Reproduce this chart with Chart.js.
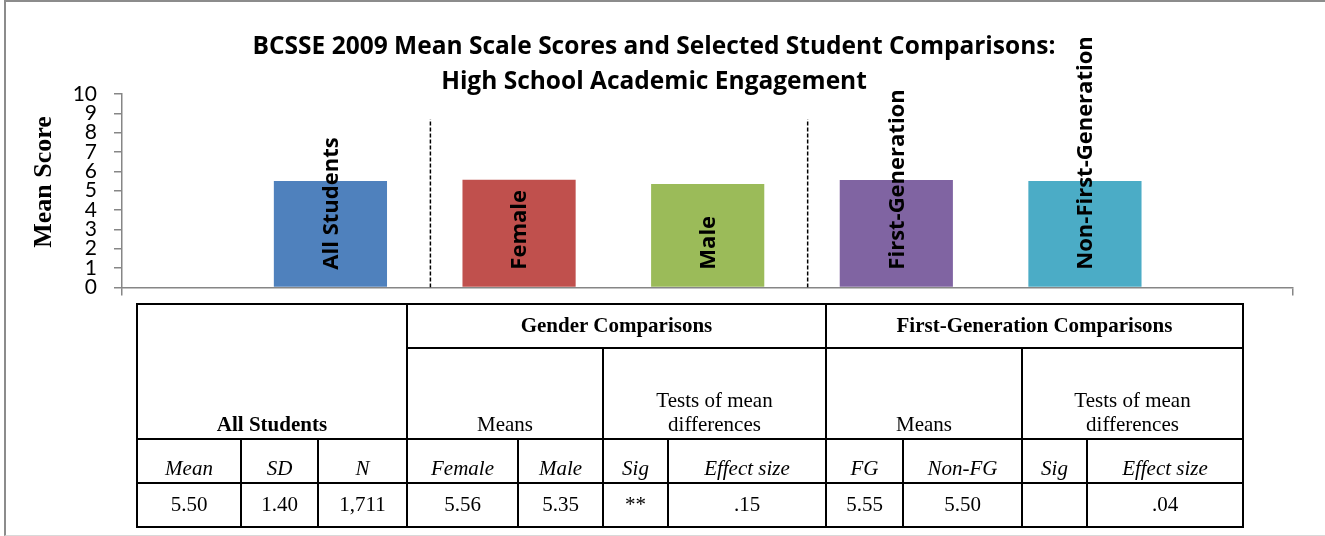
<!DOCTYPE html>
<html lang="en">
<head>
    <meta charset="UTF-8">
    <title>BCSSE 2009 Mean Scale Scores</title>
    <style>
        body {
            margin: 0;
            background-color: #fff;
            width: 1325px;
            height: 536px;
            overflow: hidden;
            position: relative;
        }
        #frame {
            position: absolute;
            left: 4px;
            top: 0;
            width: 1319px;
            height: 533px;
            border-left: 2px solid #8c8c8c;
            border-top: 2px solid #8c8c8c;
            border-bottom: 1px solid #d9d9d9;
        }
        #chart-container {
            position: absolute;
            left: 0;
            top: 0;
            width: 1325px;
            height: 317px;
        }
        #stats {
            position: absolute;
            left: 136px;
            top: 303px;
            border-collapse: collapse;
            font-family: "Liberation Serif", "Times New Roman", serif;
            font-size: 21px;
            color: #000;
            table-layout: fixed;
        }
        #stats td {
            border: 2px solid #000;
            text-align: center;
            padding: 0 2px 2px 2px;
            line-height: 24px;
        }
        #stats tr.r1 td { height: 40px; vertical-align: middle; font-weight: bold; }
        #stats tr.r2 td { height: 87px; vertical-align: bottom; }
        #stats tr.r3 td { height: 40px; vertical-align: bottom; font-style: italic; }
        #stats tr.r4 td { height: 40px; vertical-align: middle; }
        #stats td.group { font-weight: bold; }
    </style>
</head>
<body>
    <div id="frame"></div>
    <div id="chart-container">
        <canvas id="meanChart" width="1325" height="317"></canvas>
    </div>
    <table id="stats"></table>

    <script src="https://cdn.jsdelivr.net/npm/chart.js"></script>
    <script>
        // chart data
        const categories = ['All Students', 'Female', 'Male', 'First-Generation', 'Non-First-Generation'];
        const positions = [1, 2, 3, 4, 5];
        const meanScores = [5.50, 5.56, 5.35, 5.55, 5.50];
        const barColors = ['#4F81BD', '#C0504D', '#9BBB59', '#8064A2', '#4BACC6'];
        const yTicks = [0, 1, 2, 3, 4, 5, 6, 7, 8, 9, 10];
        const separatorX = [1.53, 3.53];
        const separatorTop = 8.7;
        const xMin = -0.105;
        const xMax = 6.103;

        // table data
        const groupHeaders = ['All Students', 'Gender Comparisons', 'First-Generation Comparisons'];
        const subHeaders = ['Means', 'Tests of mean<br>differences', 'Means', 'Tests of mean<br>differences'];
        const columnLabels = ['Mean', 'SD', 'N', 'Female', 'Male', 'Sig', 'Effect size', 'FG', 'Non-FG', 'Sig', 'Effect size'];
        const tableValues = ['5.50', '1.40', '1,711', '5.56', '5.35', '**', '.15', '5.55', '5.50', '', '.04'];
        const columnWidths = [104, 77, 89, 111, 85, 65, 158, 77, 119, 65, 156];

        const titleLines = ['BCSSE 2009 Mean Scale Scores and Selected Student Comparisons:', 'High School Academic Engagement'];
        const yTitle = 'Mean Score';

        // build the table
        const table = document.getElementById('stats');
        let html = '<colgroup>' + columnWidths.map(w => '<col style="width:' + w + 'px">').join('') + '</colgroup>';
        html += '<tr class="r1"><td rowspan="2" colspan="3" class="group" style="vertical-align:bottom">' + groupHeaders[0] + '</td>'
              + '<td colspan="4">' + groupHeaders[1] + '</td><td colspan="4">' + groupHeaders[2] + '</td></tr>';
        html += '<tr class="r2">'
              + '<td colspan="2">' + subHeaders[0] + '</td><td colspan="2">' + subHeaders[1] + '</td>'
              + '<td colspan="2">' + subHeaders[2] + '</td><td colspan="2">' + subHeaders[3] + '</td></tr>';
        html += '<tr class="r3">' + columnLabels.map(l => '<td>' + l + '</td>').join('') + '</tr>';
        html += '<tr class="r4">' + tableValues.map(v => '<td>' + v + '</td>').join('') + '</tr>';
        table.innerHTML = html;

        // labels written up the inside of each bar
        const barLabels = {
            id: 'barLabels',
            afterDatasetsDraw(chart) {
                const ctx = chart.ctx;
                const meta = chart.getDatasetMeta(0);
                meta.data.forEach((bar, i) => {
                    ctx.save();
                    ctx.translate(bar.x + 1, bar.base - 17);
                    ctx.rotate(-Math.PI / 2);
                    ctx.font = 'bold 22px "Open Sans"';
                    ctx.fillStyle = '#000';
                    ctx.textAlign = 'left';
                    ctx.textBaseline = 'middle';
                    ctx.fillText(categories[i], 0, 0);
                    ctx.restore();
                });
            }
        };

        // chart title and rotated axis title
        const titles = {
            id: 'titles',
            afterDraw(chart) {
                const ctx = chart.ctx;
                ctx.save();
                ctx.fillStyle = '#000';
                ctx.textAlign = 'center';
                ctx.textBaseline = 'alphabetic';
                ctx.font = 'bold 24.5px "Open Sans"';
                ctx.fillText(titleLines[0], 654, 54);
                ctx.fillText(titleLines[1], 654, 89);
                ctx.translate(44, 182);
                ctx.rotate(-Math.PI / 2);
                ctx.textBaseline = 'middle';
                ctx.font = 'bold 26px "Liberation Serif"';
                ctx.fillText(yTitle, 0, 0);
                ctx.restore();
            }
        };

        // dashed dividers between the comparison groups
        const separators = separatorX.map(x => ({
            type: 'line',
            data: [{ x: x, y: 0 }, { x: x, y: separatorTop }],
            borderColor: '#000',
            borderWidth: 1.5,
            borderDash: [4, 2],
            pointRadius: 0,
            fill: false
        }));

        const ctx = document.getElementById('meanChart').getContext('2d');
        new Chart(ctx, {
            type: 'bar',
            data: {
                datasets: [
                    {
                        data: positions.map((p, i) => ({ x: p, y: meanScores[i] })),
                        backgroundColor: barColors,
                        borderWidth: 0,
                        barPercentage: 0.6,
                        categoryPercentage: 1
                    },
                    ...separators
                ]
            },
            options: {
                responsive: false,
                animation: false,
                layout: {
                    padding: { left: 0, right: 32, top: 94, bottom: 5.4 }
                },
                scales: {
                    x: {
                        type: 'linear',
                        min: xMin,
                        max: xMax,
                        offset: false,
                        afterBuildTicks: scale => {
                            scale.ticks = [{ value: xMin }, { value: xMax }];
                        },
                        afterFit: scale => { scale.height = 8; },
                        ticks: { display: false },
                        grid: {
                            offset: false,
                            drawOnChartArea: false,
                            tickLength: 8,
                            color: '#868686',
                            lineWidth: 1.5
                        },
                        border: { color: '#868686', width: 1.5 }
                    },
                    y: {
                        min: 0,
                        max: 10,
                        afterBuildTicks: scale => {
                            scale.ticks = yTicks.map(v => ({ value: v }));
                        },
                        afterFit: scale => { scale.width = 122; },
                        ticks: {
                            color: '#000',
                            padding: 17,
                            autoSkip: false,
                            font: { family: 'Lato', size: 21 }
                        },
                        grid: {
                            drawOnChartArea: false,
                            tickLength: 8,
                            color: '#868686',
                            lineWidth: 1.5
                        },
                        border: { color: '#868686', width: 1.5 }
                    }
                },
                plugins: {
                    legend: { display: false },
                    tooltip: { enabled: false },
                    title: { display: false }
                }
            },
            plugins: [barLabels, titles]
        });
    </script>
</body>
</html>
